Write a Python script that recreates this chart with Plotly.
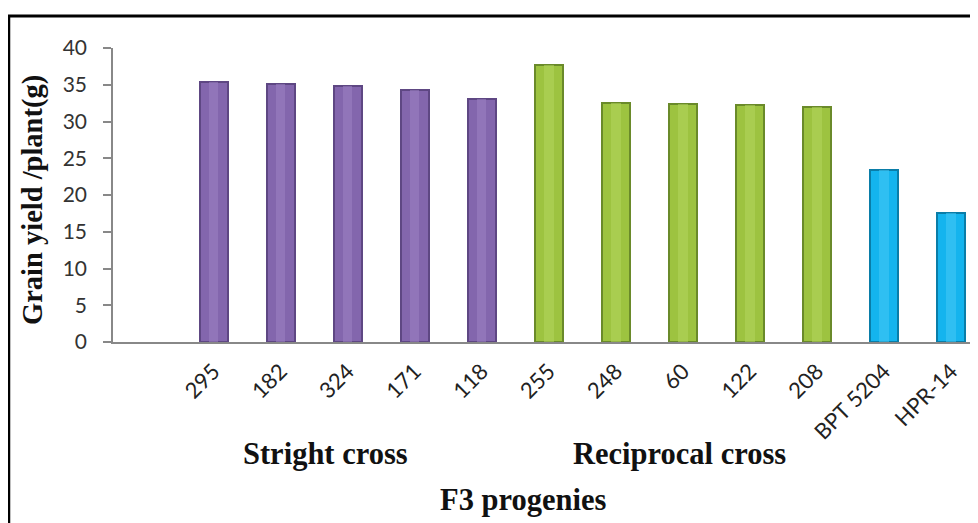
import plotly.graph_objects as go

# ---- data ----
categories = ["295", "182", "324", "171", "118", "255", "248", "60", "122", "208", "BPT 5204", "HPR-14"]
grain_yield = [35.4, 35.1, 34.8, 34.3, 33.0, 37.7, 32.5, 32.4, 32.2, 32.0, 23.4, 17.6]
groups = ["straight"] * 5 + ["reciprocal"] * 5 + ["check"] * 2
y_ticks = [0, 5, 10, 15, 20, 25, 30, 35, 40]

# ---- styles ----
OFF = 8  # page body margin in the browser
W, H = 978 - OFF, 523 - OFF
# plot area in reference pixels: x 113..978, y 48..342
ML = 113 - OFF
MR = 0
MT = 48 - OFF
MB = H - (342 - OFF)

body = {"straight": "#8366AD", "reciprocal": "#9DC340", "check": "#14B4EE"}
edge = {"straight": "#5E4783", "reciprocal": "#6A8A2A", "check": "#0A7DA8"}
light = {"straight": "#9C82C2", "reciprocal": "#B2D55C", "check": "#45C8F5"}

xpos = list(range(1, len(categories) + 1))

fig = go.Figure()
fig.add_trace(go.Bar(
    x=xpos, y=grain_yield, width=0.42,
    marker=dict(color=[body[g] for g in groups],
                line=dict(color=[edge[g] for g in groups], width=2)),
    hoverinfo="skip", showlegend=False,
))
fig.add_trace(go.Bar(
    x=xpos, y=grain_yield, width=0.14,
    marker=dict(color=[light[g] for g in groups], line=dict(width=0), opacity=0.55),
    hoverinfo="skip", showlegend=False,
))

pw = W - ML - MR
ph = H - MT - MB


def px_x(p):
    """reference pixel x -> paper x"""
    return (p - OFF - ML) / pw


def px_y(p):
    """reference pixel y -> paper y"""
    return (H - MB - (p - OFF)) / ph


serif = "Liberation Serif, Times New Roman, serif"

fig.update_layout(
    width=W, height=H, autosize=False,
    margin=dict(l=ML, r=MR, t=MT, b=MB),
    paper_bgcolor="white", plot_bgcolor="white",
    barmode="overlay", bargap=0,
    font=dict(family="Lato, Open Sans, sans-serif", color="#222222"),
    xaxis=dict(
        range=[-0.5, 12.4], tickmode="array", tickvals=xpos, ticktext=categories,
        tickangle=-45, tickfont=dict(size=22, family="Lato, sans-serif", color="#222"),
        ticklabelstandoff=6,
        showgrid=False, zeroline=False, showline=True, linecolor="#888888", linewidth=1.5,
        ticks="", fixedrange=True,
    ),
    yaxis=dict(
        range=[0, 40], tickmode="array", tickvals=y_ticks,
        tickfont=dict(size=21, family="Lato, sans-serif", color="#333"),
        ticklabelstandoff=12,
        showgrid=False, zeroline=False, showline=True, linecolor="#888888", linewidth=1.5,
        ticks="outside", ticklen=8, tickcolor="#888888", tickwidth=1.5,
    ),
    annotations=[
        dict(text="<b>Grain yield /plant(g)</b>", xref="paper", yref="paper",
             x=px_x(33), y=px_y(200), xanchor="center", yanchor="middle",
             textangle=-90, showarrow=False,
             font=dict(family=serif, size=28.5, color="#111")),
        dict(text="<b>Stright cross</b>", xref="paper", yref="paper",
             x=px_x(325), y=px_y(454), xanchor="center", yanchor="middle", showarrow=False,
             font=dict(family=serif, size=30.5, color="#111")),
        dict(text="<b>Reciprocal cross</b>", xref="paper", yref="paper",
             x=px_x(679), y=px_y(454), xanchor="center", yanchor="middle", showarrow=False,
             font=dict(family=serif, size=30.5, color="#111")),
        dict(text="<b>F3 progenies</b>", xref="paper", yref="paper",
             x=px_x(523), y=px_y(500), xanchor="center", yanchor="middle", showarrow=False,
             font=dict(family=serif, size=30.5, color="#111")),
    ],
    shapes=[
        dict(type="line", xref="paper", yref="paper", x0=px_x(7), x1=px_x(978),
             y0=px_y(16), y1=px_y(16), line=dict(color="black", width=3)),
        dict(type="line", xref="paper", yref="paper", x0=px_x(9), x1=px_x(9),
             y0=px_y(16), y1=px_y(523), line=dict(color="black", width=2.5)),
    ],
)

fig.write_html("out.html")
